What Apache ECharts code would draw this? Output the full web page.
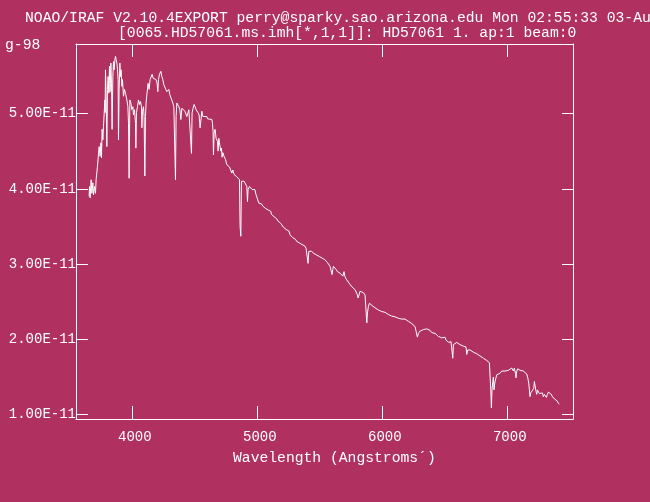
<!DOCTYPE html>
<html><head><meta charset="utf-8">
<script src="https://cdn.jsdelivr.net/npm/echarts@6/dist/echarts.min.js"></script>
<style>html,body{margin:0;padding:0;background:#B03060;}#c{width:650px;height:502px;}</style>
</head><body><div id="c"></div>
<script>
// Spectrum of HD57061: [wavelength (Angstrom), flux in units of 1e-11]
const spectrum = [
[3654,3.90],[3657,4.03],[3662,3.88],[3670,4.12],[3676,3.94],[3684,4.08],[3689,3.92],[3697,4.03],[3705,3.94],[3710,4.12],[3716,4.12],[3721,4.30],[3729,4.32],[3734,4.56],[3742,4.43],[3748,4.61],[3753,4.41],[3758,4.79],[3764,4.65],[3769,4.83],[3774,4.85],[3780,5.18],[3782,5.01],[3785,5.58],[3790,5.23],[3796,4.56],[3801,5.32],[3806,5.49],[3812,5.27],[3817,5.63],[3822,5.29],[3828,5.67],[3833,5.40],[3838,4.79],[3844,5.49],[3849,5.69],[3854,5.58],[3860,5.71],[3865,5.76],[3870,5.78],[3876,5.67],[3881,5.58],[3886,5.45],[3889,4.65],[3894,5.32],[3900,5.67],[3905,5.49],[3910,5.58],[3916,5.36],[3921,5.45],[3929,5.23],[3937,5.32],[3945,5.27],[3956,5.18],[3964,5.09],[3969,4.87],[3974,4.14],[3980,5.18],[3988,5.14],[3996,5.05],[4004,5.09],[4009,4.98],[4017,5.05],[4025,4.87],[4028,4.54],[4033,5.01],[4041,5.09],[4049,5.18],[4057,5.12],[4065,5.16],[4073,5.09],[4076,4.81],[4081,5.03],[4089,5.09],[4094,4.96],[4100,4.17],[4105,4.96],[4110,5.14],[4116,5.25],[4121,5.23],[4126,5.40],[4134,5.32],[4142,5.45],[4150,5.43],[4158,5.52],[4166,5.47],[4174,5.49],[4182,5.47],[4190,5.45],[4198,5.40],[4204,5.29],[4209,5.45],[4217,5.52],[4222,5.54],[4228,5.56],[4236,5.49],[4244,5.45],[4252,5.38],[4260,5.40],[4268,5.36],[4276,5.29],[4284,5.27],[4292,5.32],[4300,5.25],[4308,5.27],[4316,5.25],[4324,5.14],[4332,5.09],[4340,5.07],[4345,4.12],[4350,4.96],[4356,5.14],[4364,5.12],[4372,5.09],[4380,5.05],[4388,4.92],[4396,5.07],[4404,5.05],[4412,5.07],[4420,5.03],[4428,5.01],[4436,4.96],[4444,4.98],[4452,5.05],[4460,5.03],[4468,5.05],[4473,4.47],[4478,5.01],[4486,5.07],[4494,5.12],[4502,5.09],[4510,5.05],[4518,5.03],[4526,5.01],[4534,4.98],
[4542,4.81],[4556,5.03],[4564,4.96],[4596,4.96],[4601,4.93],[4636,4.92],[4641,4.87],[4646,4.76],[4649,4.45],[4654,4.74],[4662,4.79],[4670,4.67],[4681,4.63],[4686,4.50],[4692,4.67],[4697,4.61],[4702,4.56],[4708,4.50],[4713,4.54],[4718,4.42],[4724,4.48],[4734,4.43],[4745,4.39],[4756,4.32],[4766,4.30],[4777,4.29],[4788,4.28],[4796,4.21],[4804,4.25],[4814,4.19],[4825,4.19],[4836,4.16],[4846,4.14],[4857,4.12],[4862,3.50],[4868,3.37],[4873,4.10],[4884,4.08],[4894,4.10],[4905,4.08],[4916,4.03],[4921,3.83],[4926,3.99],[4937,4.03],[4948,4.01],[4958,3.99],[4969,3.97],[4980,3.99],[4990,3.92],[5001,3.90],[5012,3.81],[5017,3.79],[5022,3.83],[5033,3.80],[5044,3.77],[5054,3.78],[5065,3.74],[5076,3.74],[5086,3.72],[5097,3.71],[5108,3.70],[5113,3.66],[5124,3.67],[5134,3.63],[5145,3.61],[5156,3.60],[5166,3.57],[5177,3.55],[5188,3.54],[5198,3.52],[5209,3.49],[5220,3.48],[5230,3.46],[5241,3.44],[5252,3.44],[5262,3.39],[5273,3.37],[5284,3.35],[5294,3.36],[5305,3.33],[5316,3.30],[5326,3.29],[5337,3.28],[5348,3.26],[5358,3.26],[5369,3.24],[5380,3.24],[5390,3.21],[5401,3.19],[5406,3.01],[5412,3.17],[5422,3.16],[5433,3.17],[5444,3.15],[5454,3.14],[5465,3.14],[5476,3.12],[5486,3.12],[5497,3.10],[5508,3.09],[5518,3.08],[5529,3.06],[5540,3.06],[5550,3.04],[5561,3.02],[5572,3.01],[5582,2.97],[5593,2.95],[5598,2.86],[5604,2.93],[5609,2.97],[5620,2.97],[5630,2.93],[5641,2.90],[5652,2.88],[5662,2.88],[5673,2.86],[5684,2.84],[5694,2.90],[5700,2.84],[5711,2.80],
[5742,2.73],[5756,2.70],[5769,2.68],[5782,2.66],[5790,2.64],[5801,2.59],[5806,2.55],[5814,2.59],[5822,2.64],[5836,2.64],[5849,2.62],[5862,2.59],[5870,2.57],[5876,2.22],[5881,2.35],[5889,2.44],[5897,2.48],[5908,2.46],[5918,2.45],[5929,2.44],[5942,2.42],[5956,2.40],[5969,2.39],[5982,2.39],[5996,2.37],[6009,2.36],[6022,2.36],[6036,2.35],[6049,2.33],[6062,2.31],[6076,2.31],[6089,2.30],[6102,2.30],[6116,2.28],[6129,2.28],[6142,2.30],[6156,2.27],[6169,2.26],[6182,2.27],[6196,2.26],[6209,2.24],[6222,2.23],[6236,2.21],[6249,2.20],[6262,2.17],[6276,2.15],[6281,2.03],[6289,2.08],[6302,2.11],[6316,2.12],[6329,2.13],[6342,2.14],[6356,2.14],[6369,2.13],[6382,2.12],[6396,2.09],[6409,2.08],[6422,2.08],[6436,2.06],[6449,2.04],[6462,2.03],[6476,2.02],[6489,2.00],[6502,2.03],[6510,1.99],[6521,1.97],[6532,1.96],
[6550,1.97],[6558,1.95],[6564,1.75],[6569,1.93],[6582,1.95],[6596,1.96],[6609,1.94],[6622,1.93],[6636,1.92],[6649,1.91],[6662,1.91],[6670,1.90],[6676,1.80],[6684,1.86],[6692,1.87],[6702,1.86],[6716,1.85],[6729,1.83],[6742,1.82],[6756,1.81],[6769,1.80],[6782,1.78],[6796,1.77],[6809,1.75],[6822,1.73],[6836,1.72],[6849,1.71],[6857,1.69],[6865,1.69],[6868,1.33],[6873,1.09],[6878,1.33],[6884,1.44],[6889,1.50],[6894,1.33],[6900,1.42],[6905,1.46],[6916,1.53],[6929,1.54],[6942,1.55],[6956,1.58],[6969,1.60],[6982,1.58],[6996,1.56],[7009,1.59],[7022,1.58],[7036,1.62],[7044,1.60],[7049,1.58],[7057,1.62],[7065,1.55],[7070,1.49],[7076,1.58],[7084,1.61],[7092,1.60],[7102,1.59],[7116,1.58],[7129,1.58],[7142,1.56],[7156,1.54],[7164,1.49],[7172,1.42],[7177,1.33],[7182,1.24],[7188,1.29],[7196,1.27],[7204,1.31],[7212,1.35],[7217,1.44],[7225,1.42],[7230,1.31],[7236,1.27],[7241,1.33],[7249,1.31],[7257,1.28],[7265,1.30],[7273,1.27],[7281,1.29],[7289,1.24],[7297,1.27],[7305,1.29],[7313,1.23],[7321,1.27],[7329,1.30],[7337,1.28],[7345,1.29],[7353,1.27],[7361,1.24],[7369,1.22],[7377,1.21],[7385,1.20],[7393,1.19],[7401,1.18],[7409,1.15],[7417,1.14]
];
const xTicks = [4000, 5000, 6000, 7000];
const yTicks = [1, 2, 3, 4, 5];
const xRange = [3549, 7526];
const yRange = [0.943, 5.923];
const titleLine1 = 'NOAO/IRAF V2.10.4EXPORT perry@sparky.sao.arizona.edu Mon 02:55:33 03-Au';
const titleLine2 = '[0065.HD57061.ms.imh[*,1,1]]: HD57061 1. ap:1 beam:0';
const titleWrap = 'g-98';
const xTitle = 'Wavelength (Angstroms\u00B4)';

const FONT = '"Liberation Mono","DejaVu Sans Mono",monospace';
const W = '#ffffff';
const chart = echarts.init(document.getElementById('c'), null, {renderer: 'canvas'});
const lineStyle = {color: W, width: 1};
function xAx(pos, showLabel) {
  return {
    type: 'value', position: pos, min: xRange[0], max: xRange[1],
    axisLine: {show: true, lineStyle},
    axisTick: {show: true, inside: true, length: 13, lineStyle, customValues: xTicks},
    axisLabel: {show: showLabel, customValues: xTicks, color: W, fontFamily: FONT, fontSize: 14, margin: 11, padding: [0, 0, 0, 5],
      formatter: v => String(v)},
    splitLine: {show: false}
  };
}
function yAx(pos, showLabel, len) {
  return {
    type: 'value', position: pos, min: yRange[0], max: yRange[1],
    axisLine: {show: true, lineStyle},
    axisTick: {show: true, inside: true, length: len, lineStyle, customValues: yTicks},
    axisLabel: {show: showLabel, customValues: yTicks, color: W, fontFamily: FONT, fontSize: 14, margin: 0,
      formatter: v => v.toFixed(2) + 'E-11'},
    splitLine: {show: false}
  };
}
chart.setOption({
  backgroundColor: '#B03060',
  animation: false,
  grid: {left: 76, right: 77, top: 44, bottom: 83, containLabel: false},
  xAxis: [xAx('bottom', true), xAx('top', false)],
  yAxis: [yAx('left', true, 12), yAx('right', false, 11)],
  series: [{
    type: 'line', xAxisIndex: 0, yAxisIndex: 0, data: spectrum,
    showSymbol: false, symbol: 'none', lineStyle, clip: true
  }],
  graphic: [
    {type: 'text', x: 25, y: 18, style: {text: titleLine1, fill: W, font: '14.7px ' + FONT, verticalAlign: 'middle'}},
    {type: 'text', x: 118, y: 33, style: {text: titleLine2, fill: W, font: '14.7px ' + FONT, verticalAlign: 'middle'}},
    {type: 'text', x: 5, y: 45, style: {text: titleWrap, fill: W, font: '14.7px ' + FONT, verticalAlign: 'middle'}},
    {type: 'text', x: 233, y: 458, style: {text: xTitle, fill: W, font: '14.7px ' + FONT, verticalAlign: 'middle'}}
  ]
});
</script></body></html>
